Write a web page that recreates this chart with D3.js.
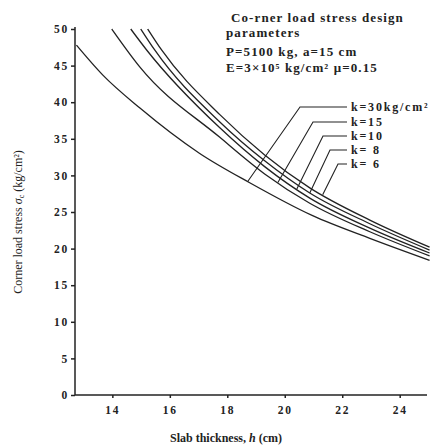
<!DOCTYPE html>
<html>
<head>
<meta charset="utf-8">
<script src="https://cdn.jsdelivr.net/npm/d3@7"></script>
<style>
  body { margin: 0; background: #fff; }
  svg { display: block; }
  .axis path, .axis line { stroke: #222; stroke-width: 1.5; }
  .axis text { font-family: "Liberation Serif", serif; font-weight: bold; font-size: 11.5px; fill: #222; letter-spacing: 1.8px; }
  .note { font-family: "Liberation Serif", serif; font-weight: bold; font-size: 13px; fill: #222; letter-spacing: 1.1px; }
  .k-label { font-family: "Liberation Serif", serif; font-weight: bold; font-size: 12px; fill: #222; letter-spacing: 1.8px; }
  .axis-label { font-family: "Liberation Serif", serif; font-size: 12px; fill: #222; }
  .curve { fill: none; stroke: #222; stroke-width: 1.3; }
  .leader { fill: none; stroke: #222; stroke-width: 1.1; }
</style>
</head>
<body>
<div id="chart"></div>
<script>
// Corner load stress vs slab thickness, one curve per subgrade modulus k

const kLabels = ["k=30kg/cm²", "k=15", "k=10", "k= 8", "k= 6"];

// slab thickness h (cm) and stress (kg/cm²)
const thickK30 = [12.75, 13.67, 14.96, 17.04, 18.78, 20.97, 22.96, 25.04];
const stressK30 = [47.8, 43.7, 39.2, 33.0, 29.0, 24.5, 21.4, 18.4];

const thickK15 = [13.98, 14.96, 17.74, 19.30, 20.87, 22.96, 25.04];
const stressK15 = [50, 44.8, 35.2, 30.2, 26.2, 22.3, 19.0];

const thickK10 = [14.64, 15.20, 17.74, 19.30, 20.87, 22.96, 25.04];
const stressK10 = [50, 47.1, 36.5, 31.2, 26.9, 22.8, 19.4];

const thickK8 = [14.99, 15.48, 17.74, 19.30, 20.87, 22.96, 25.04];
const stressK8 = [50, 47.1, 37.3, 32.0, 27.6, 23.4, 19.8];

const thickK6 = [15.23, 15.72, 17.74, 19.30, 20.87, 22.96, 25.04];
const stressK6 = [50, 47.1, 38.3, 32.8, 28.3, 23.9, 20.2];

// where each leader line touches its curve (h, cm)
const leaderThick = [18.71, 19.76, 20.42, 20.87, 21.32];

const xTicks = [14, 16, 18, 20, 22, 24];
const yTicks = [0, 5, 10, 15, 20, 25, 30, 35, 40, 45, 50];

const noteLines = [
    "Co-rner load stress design",
    "parameters",
    "P=5100 kg, a=15 cm",
    "E=3×10⁵ kg/cm²  μ=0.15"
];

const width = 440, height = 448;

const series = [
    { label: kLabels[0], h: thickK30, s: stressK30 },
    { label: kLabels[1], h: thickK15, s: stressK15 },
    { label: kLabels[2], h: thickK10, s: stressK10 },
    { label: kLabels[3], h: thickK8, s: stressK8 },
    { label: kLabels[4], h: thickK6, s: stressK6 }
];

const svg = d3.select("#chart")
    .append("svg")
    .attr("width", width)
    .attr("height", height);

// Scales
const xScale = d3.scaleLinear()
    .domain([12.7, 24.95])
    .range([75, 427]);

const yScale = d3.scaleLinear()
    .domain([0, 50])
    .range([395, 29]);

// X axis
const xAxis = svg.append("g")
    .attr("class", "axis")
    .attr("transform", "translate(0, 395)")
    .call(d3.axisBottom(xScale).tickValues(xTicks).tickSize(3).tickPadding(8).tickSizeOuter(0));
xAxis.select(".domain").attr("d", `M${xScale.range()[0]},0H${xScale.range()[1]}`);

// Y axis
const yAxis = svg.append("g")
    .attr("class", "axis")
    .attr("transform", "translate(75, 0)")
    .call(d3.axisLeft(yScale).tickValues(yTicks).tickSize(4).tickPadding(2).tickSizeOuter(0));
yAxis.select(".domain").attr("d", "M0,27V395");

// Axis labels
svg.append("text")
    .attr("class", "axis-label")
    .attr("x", 226)
    .attr("y", 442)
    .attr("text-anchor", "middle")
    .style("font-weight", "bold")
    .html("Slab thickness, <tspan font-style='italic'>h</tspan> (cm)");

svg.append("text")
    .attr("class", "axis-label")
    .attr("transform", "translate(22, 222) rotate(-90)")
    .attr("text-anchor", "middle")
    .html("Corner load stress <tspan font-style='italic'>σ</tspan><tspan font-size='8px' dy='2'>c</tspan><tspan dy='-2'> (kg/cm²)</tspan>");

// Curves
const line = d3.line()
    .x(d => xScale(d[0]))
    .y(d => yScale(d[1]))
    .curve(d3.curveMonotoneX);

svg.selectAll(".curve")
    .data(series)
    .join("path")
    .attr("class", "curve")
    .attr("d", d => line(d3.zip(d.h, d.s)));

// Leader lines and k labels
const labelY = [107, 122, 136, 150, 164];
const elbowX = [300, 313, 323, 330, 338];
const labelX = 351;

series.forEach((d, i) => {
    const onCurve = d3.scaleLinear().domain(d.h).range(d.s);
    const hx = xScale(leaderThick[i]);
    const hy = yScale(onCurve(leaderThick[i]));
    svg.append("path")
        .attr("class", "leader")
        .attr("d", `M${hx},${hy}L${elbowX[i]},${labelY[i]}H${labelX - 4}`);
    svg.append("text")
        .attr("class", "k-label")
        .attr("x", labelX)
        .attr("y", labelY[i] + 4)
        .text(d.label);
});

// Design parameter note
svg.append("g")
    .selectAll("text")
    .data(noteLines)
    .join("text")
    .attr("class", "note")
    .attr("x", (d, i) => i === 0 ? 231 : 226)
    .attr("y", (d, i) => [22, 37, 56, 72][i])
    .text(d => d);
</script>
</body>
</html>
